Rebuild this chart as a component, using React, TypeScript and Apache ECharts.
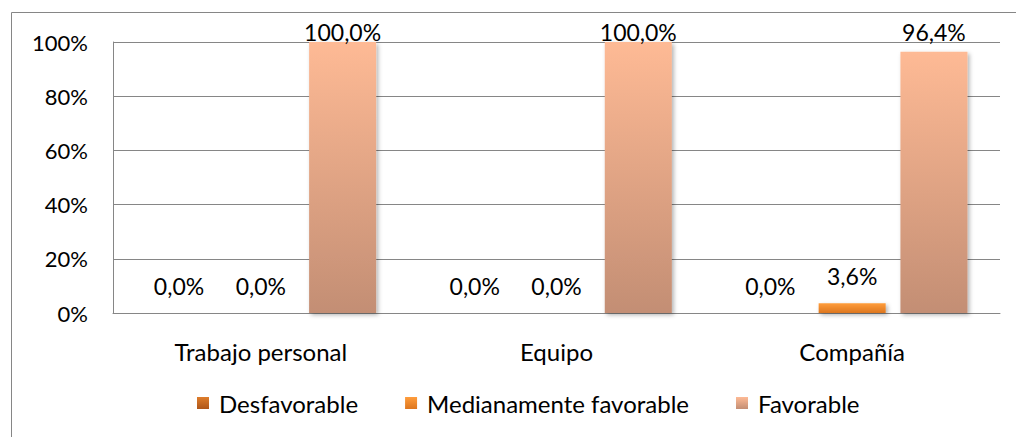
import React, { useEffect, useRef } from "react";
import * as echarts from "echarts";

const categories = ["Trabajo personal", "Equipo", "Compañía"];
const seriesNames = ["Desfavorable", "Medianamente favorable", "Favorable"];
const desfavorable = [0.0, 0.0, 0.0];
const medianamente = [0.0, 0.0, 3.6];
const favorable = [100.0, 100.0, 96.4];
const yTicks = [0, 20, 40, 60, 80, 100];

const FONT = "Lato";
const GRID = { left: 113, right: 16, top: 42, bottom: 124 };
const PLOT_H = 437 - GRID.top - GRID.bottom;

const grad = (top: string, bottom: string) =>
  new echarts.graphic.LinearGradient(0, 0, 0, 1, [
    { offset: 0, color: top },
    { offset: 1, color: bottom },
  ]);

const colors = [
  grad("#de7d2c", "#ae561a"),
  grad("#ff9d3c", "#dd761e"),
  grad("#feba95", "#c38e74"),
];

// value labels sit above the bar but are kept inside the chart area
const labelDistance = (v: number) => {
  const barTop = GRID.top + (1 - v / 100) * PLOT_H;
  return Math.min(16, barTop - 43);
};

const fmt = (v: number) => v.toFixed(1).replace(".", ",") + "%";

export default function App() {
  const ref = useRef<HTMLDivElement>(null);
  useEffect(() => {
    if (!ref.current) return;
    const chart = echarts.init(ref.current, undefined, { renderer: "svg" });
    const values = [desfavorable, medianamente, favorable];
    chart.setOption({
      animation: false,
      backgroundColor: "#ffffff",
      textStyle: { fontFamily: FONT },
      grid: GRID,
      graphic: [
        {
          type: "rect",
          shape: { x: 11.5, y: 12.5, width: 1020, height: 440 },
          style: { fill: "none", stroke: "#868686", lineWidth: 1 },
          silent: true,
          z: -1,
        },
      ],
      legend: {
        bottom: 17,
        left: 192,
        itemWidth: 12,
        itemHeight: 12,
        itemGap: 47,
        icon: "rect",
        textStyle: { fontFamily: FONT, fontSize: 24, color: "#000", padding: [0, 0, 0, 5] },
        data: seriesNames.map((n, i) => ({ name: n, itemStyle: { color: colors[i] } })),
      },
      xAxis: {
        type: "category",
        data: categories,
        axisLine: { lineStyle: { color: "#868686", width: 1 } },
        axisTick: { show: false },
        axisLabel: { fontFamily: FONT, fontSize: 24, color: "#000", margin: 26 },
      },
      yAxis: {
        type: "value",
        min: yTicks[0],
        max: yTicks[yTicks.length - 1],
        interval: 20,
        axisLine: { show: true, lineStyle: { color: "#868686", width: 1 } },
        axisTick: { show: false },
        splitLine: { lineStyle: { color: "#868686", width: 1 } },
        axisLabel: { fontFamily: FONT, fontSize: 22, color: "#000", margin: 25, formatter: "{value}%" },
      },
      series: values.map((arr, i) => ({
        name: seriesNames[i],
        type: "bar",
        barGap: "22%",
        barCategoryGap: "22%",
        itemStyle: {
          color: colors[i],
          shadowBlur: 4,
          shadowOffsetX: 2,
          shadowOffsetY: 2,
          shadowColor: "rgba(0,0,0,0.3)",
        },
        data: arr.map((v) => ({
          value: v,
          label: { distance: labelDistance(v) },
        })),
        label: {
          show: true,
          position: "top",
          fontFamily: FONT,
          fontSize: 23,
          color: "#000",
          formatter: (p: any) => fmt(p.value),
        },
      })),
    });
    return () => chart.dispose();
  }, []);
  return (
    <div
      ref={ref}
      style={{ position: "fixed", left: 0, top: 0, width: 1016, height: 437 }}
    />
  );
}
